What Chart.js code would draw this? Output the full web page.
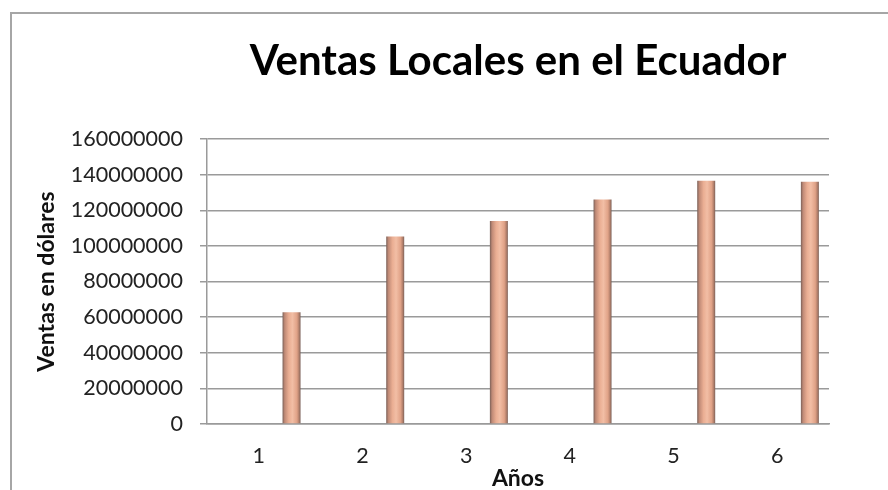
<!DOCTYPE html>
<html>
<head>
<meta charset="utf-8">
<script src="https://cdn.jsdelivr.net/npm/chart.js@4.4.1/dist/chart.umd.min.js"></script>
<style>
  html, body { margin: 0; padding: 0; background: #fff; }
  #wrap { position: relative; width: 888px; height: 490px; overflow: hidden; }
  #marco { position: absolute; left: 10px; top: 12px; width: 900px; height: 500px;
           border-left: 2px solid #a6a6a6; border-top: 2px solid #a6a6a6; }
  canvas { position: absolute; left: 0; top: 0; }
</style>
</head>
<body>
<div id="wrap">
  <div id="marco"></div>
  <canvas id="myChart" width="888" height="490"></canvas>
</div>
<script>
// datos
const etiquetasAnios = ['1', '2', '3', '4', '5', '6'];
const serieAnios = [0, 0, 0, 0, 0, 0];
const ventasLocales = [62700000, 105300000, 114000000, 126000000, 136500000, 136000000];
const ejeYMin = 0;
const ejeYMax = 160000000;
const ejeYPaso = 20000000;

const gris = '#9a9a9a';

function degradado(c) {
  const el = c.element;
  if (!el || !el.width || isNaN(el.x)) return '#eeaa8a';
  const g = c.chart.ctx.createLinearGradient(el.x - el.width / 2, 0, el.x + el.width / 2, 0);
  g.addColorStop(0, '#7a6058');
  g.addColorStop(0.12, '#c08a76');
  g.addColorStop(0.35, '#eaae93');
  g.addColorStop(0.55, '#f2bea5');
  g.addColorStop(0.8, '#e0a287');
  g.addColorStop(0.92, '#b07e6a');
  g.addColorStop(1, '#7a6058');
  return g;
}

// centra el titulo sobre el area del grafico
const tituloCentrado = {
  id: 'tituloCentrado',
  afterLayout(chart) {
    const t = chart.titleBlock;
    if (t) {
      t.left = chart.chartArea.left;
      t.right = chart.chartArea.right;
    }
  }
};

const ctx = document.getElementById('myChart');
const chart = new Chart(ctx, {
  type: 'bar',
  data: {
    labels: etiquetasAnios,
    datasets: [
      {
        label: 'Años',
        data: serieAnios,
        backgroundColor: '#e0875a'
      },
      {
        label: 'Ventas',
        data: ventasLocales,
        backgroundColor: degradado,
        borderWidth: 0
      }
    ]
  },
  options: {
    responsive: false,
    animation: false,
    categoryPercentage: 1.262,
    barPercentage: 0.275,
    layout: { padding: { left: 0, right: 59, top: 0, bottom: 0 } },
    plugins: {
      legend: { display: false },
      tooltip: { enabled: false },
      title: {
        display: true,
        text: 'Ventas Locales en el Ecuador',
        color: '#000',
        font: { family: 'Lato', size: 42, weight: 'bold', lineHeight: 1.2 },
        padding: { top: 36, bottom: 52.6 }
      }
    },
    scales: {
      x: {
        afterFit(scale) { scale.height = 66; },
        grid: { display: false, drawTicks: false },
        border: { display: true, color: gris, width: 1.5 },
        ticks: {
          color: '#222',
          font: { family: 'Lato', size: 21.5 },
          padding: 19
        },
        title: {
          display: true,
          text: 'Años',
          color: '#111',
          font: { family: 'Lato', size: 23, weight: 'bold', lineHeight: 1 },
          padding: { top: 0, bottom: 0 }
        }
      },
      y: {
        min: ejeYMin,
        max: ejeYMax,
        afterFit(scale) { scale.width = 207; },
        grid: { color: gris, lineWidth: 1.5, tickLength: 7, drawTicks: true },
        border: { display: true, color: gris, width: 1.5 },
        ticks: {
          stepSize: ejeYPaso,
          color: '#222',
          font: { family: 'Lato', size: 21.5 },
          padding: 17,
          callback: v => String(v)
        },
        title: {
          display: true,
          text: 'Ventas en dólares',
          color: '#111',
          font: { family: 'Lato', size: 23, weight: 'bold', lineHeight: 1.2 },
          padding: { top: 33, bottom: 0 }
        }
      }
    }
  },
  plugins: [tituloCentrado]
});
chart.update();
</script>
</body>
</html>
